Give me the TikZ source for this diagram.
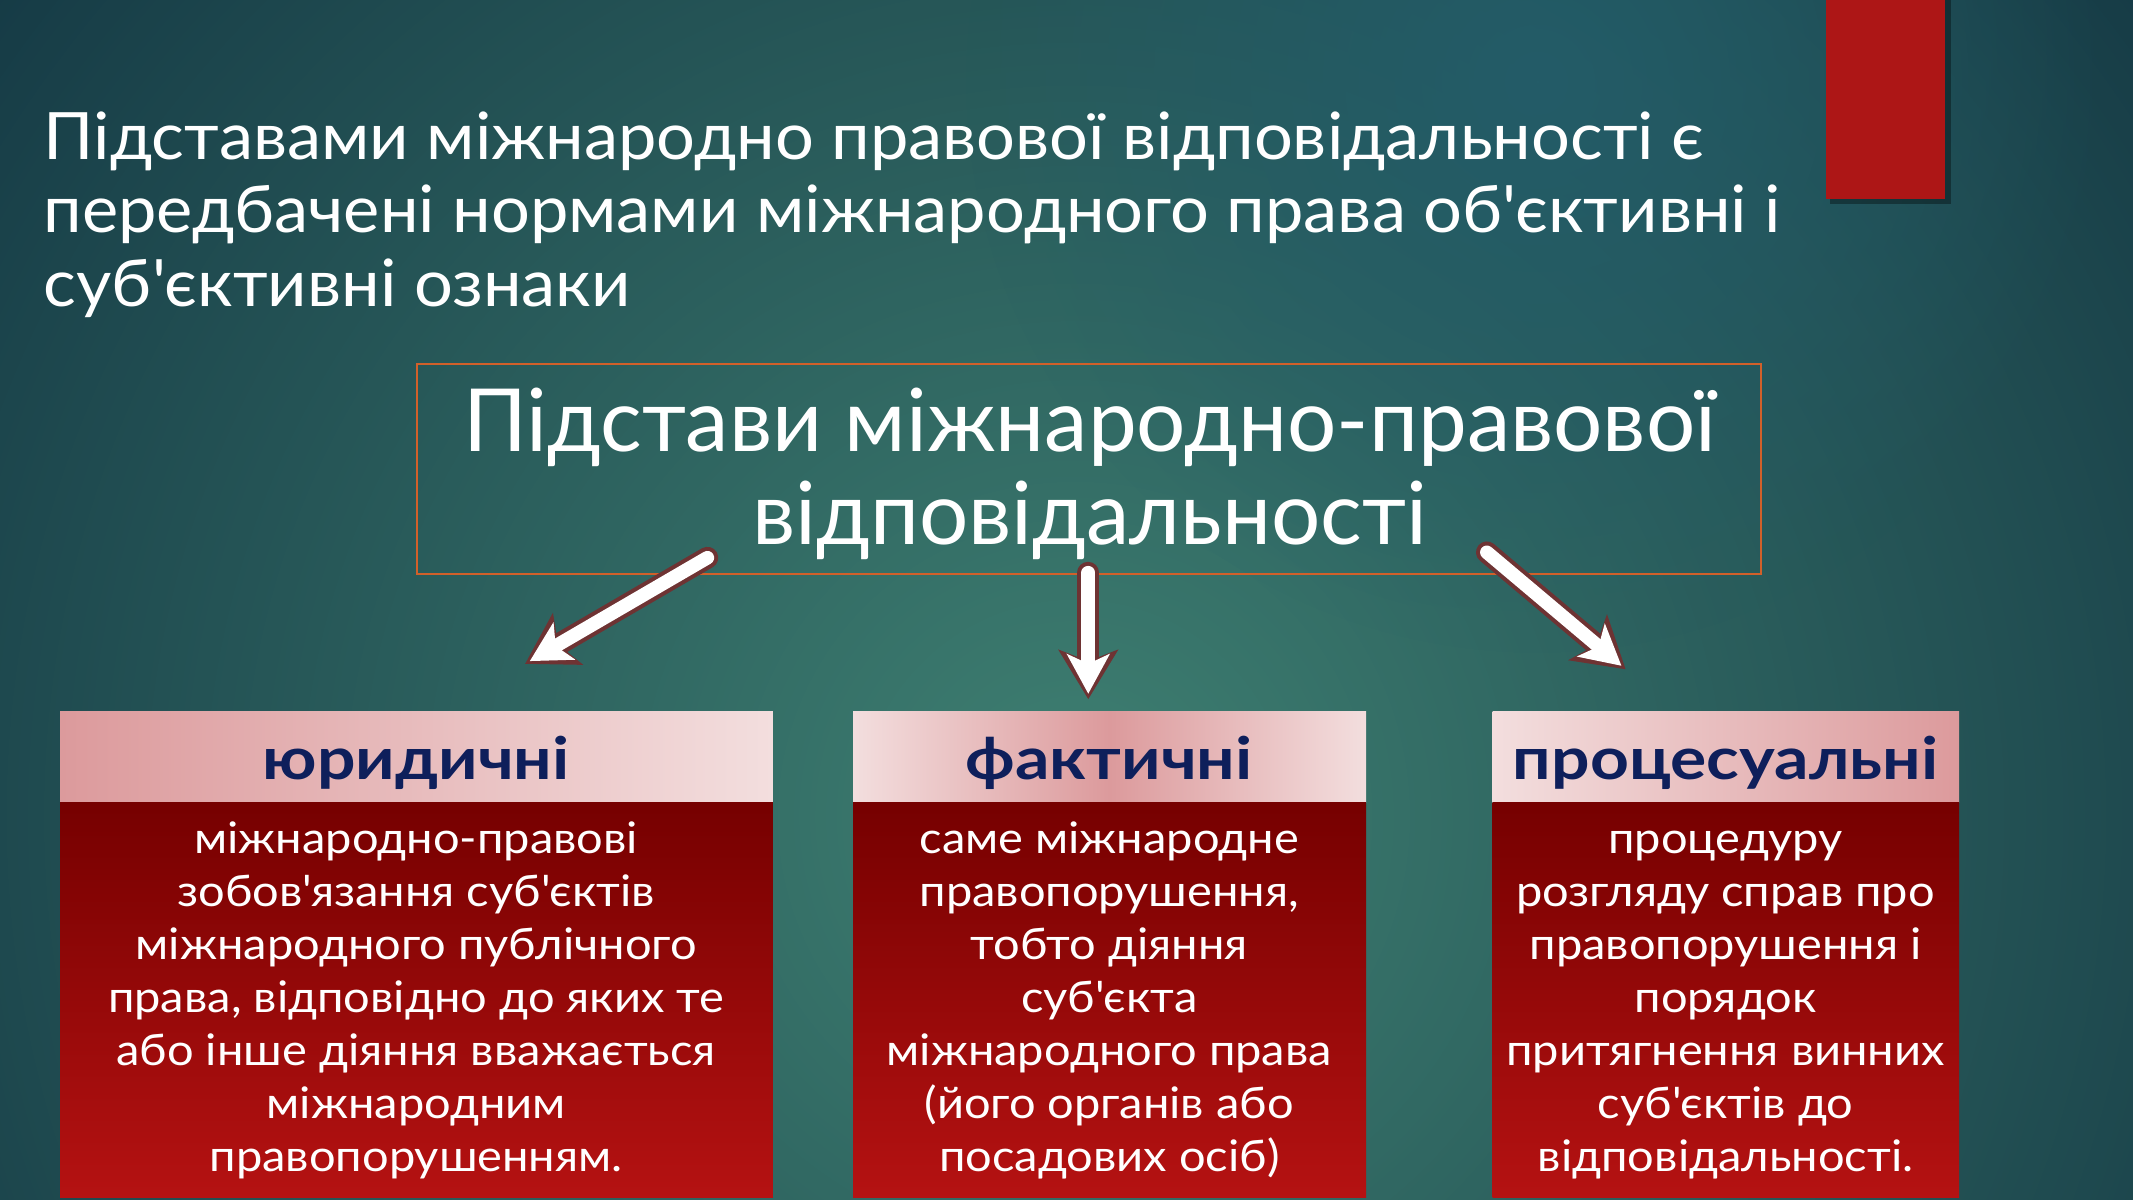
\documentclass[tikz,border=0pt]{standalone}
\usepackage{fontspec}
\setmainfont{Lato}[Ligatures=TeXOff]
\newfontfamily\titlefont{Lato}[Ligatures=TeXOff, FakeStretch=1.05]
\newfontfamily\headfont{Lato}[Ligatures=TeXOff, FakeStretch=1.16]
\newfontfamily\bodyfont{Lato}[Ligatures=TeXOff, FakeStretch=1.08]
\usetikzlibrary{arrows.meta,fadings}
\definecolor{bgdark}{HTML}{163B46}
\definecolor{bglight}{HTML}{3F8072}
\definecolor{bgblue}{HTML}{235C68}
\definecolor{redbar}{HTML}{AD1616}
\definecolor{boxorange}{HTML}{D2602A}
\definecolor{glowred}{HTML}{6E3333}
\definecolor{headnavy}{HTML}{0E1F5B}
\definecolor{pinkdark}{HTML}{DC9A9C}
\definecolor{pinklight}{HTML}{F3DEDE}
\definecolor{bodytop}{HTML}{760000}
\definecolor{bodybot}{HTML}{B51212}
\tikzfading[name=glowfade, inner color=transparent!0, outer color=transparent!100]
\tikzset{
  headbox/.style={anchor=north west, inner sep=0pt, minimum height=67pt},
  bodybox/.style={anchor=north west, inner sep=0pt, minimum height=290pt, top color=bodytop, bottom color=bodybot},
  headtext/.style={anchor=base, inner sep=0pt, text=headnavy, font=\headfont\fontsize{43}{50}\selectfont\bfseries},
  bodytext/.style={anchor=north, inner sep=0pt, align=center, text=white, font=\bodyfont\fontsize{32}{39}\selectfont},
  arrowglow/.style={draw=glowred, line width=16pt, line cap=round, -{Stealth[length=36pt,width=43pt,inset=8pt]}},
  arrowwhite/.style={draw=white, line width=10pt, line cap=round, -{Stealth[length=29pt,width=31pt,inset=7pt]}, shorten >=4pt}
}
\newcommand{\fl}{\rule{0pt}{26pt}}
\begin{document}
\begin{tikzpicture}[x=1pt,y=-1pt]
\useasboundingbox (0,0) rectangle (1568,882);
\fill[bgdark] (0,0) rectangle (1568,882);
\begin{scope}
  \clip (0,0) rectangle (1568,882);
  \fill[bglight, path fading=glowfade] (790,600) circle (1000pt);
  \fill[bgblue, path fading=glowfade] (1130,60) circle (420pt);
\end{scope}
% red bar
\fill[black, opacity=0.35] (1345,0) rectangle (1434,150);
\fill[redbar] (1342,0) rectangle (1430,146);
% title
\node[anchor=north west, inner sep=0pt, align=left, text=white, font=\titlefont\fontsize{48}{54}\selectfont] (title) at (32,79)
  {\rule{0pt}{38pt}Підставами міжнародно правової відповідальності є\\
   передбачені нормами міжнародного права об'єктивні і\\
   суб'єктивні ознаки};
% main box
\node[draw=boxorange, line width=1.5pt, anchor=north west, inner sep=0pt, minimum width=988pt, minimum height=154pt] (main) at (306,267) {};
\node[anchor=north, inner sep=0pt, align=center, text=white, font=\fontsize{64}{68}\selectfont] (maintext) at (801,282)
  {\rule{0pt}{50pt}Підстави міжнародно-правової\\відповідальності};
% columns
\node[headbox, minimum width=524pt, left color=pinkdark, right color=pinklight] (h1) at (44,523) {};
\node[headbox, minimum width=377pt, left color=pinklight, right color=pinklight, middle color=pinkdark] (h2) at (627,523) {};
\node[headbox, minimum width=343pt, left color=pinklight, right color=pinkdark] (h3) at (1097,523) {};
\node[bodybox, minimum width=524pt] (b1) at (44,590) {};
\node[bodybox, minimum width=377pt] (b2) at (627,590) {};
\node[bodybox, minimum width=343pt] (b3) at (1097,590) {};
\node[headtext] (ht1) at (306,573) {юридичні};
\node[headtext] (ht2) at (815.5,573) {фактичні};
\node[headtext] (ht3) at (1268.5,573) {процесуальні};
\node[bodytext] (bt1) at (306,601) {\fl міжнародно-правові\\зобов'язання суб'єктів\\міжнародного публічного\\права, відповідно до яких те\\або інше діяння вважається\\міжнародним\\правопорушенням.};
\node[bodytext] (bt2) at (815.5,601) {\fl саме міжнародне\\правопорушення,\\тобто діяння\\суб'єкта\\міжнародного права\\(його органів або\\посадових осіб)};
\node[bodytext] (bt3) at (1268.5,601) {\fl процедуру\\розгляду справ про\\правопорушення і\\порядок\\притягнення винних\\суб'єктів до\\відповідальності.};
% arrows
\coordinate (a1s) at (520,410);
\coordinate (a1e) at (386,488);
\coordinate (a2s) at (800,421);
\coordinate (a2e) at (800,514);
\coordinate (a3s) at (1093,406);
\coordinate (a3e) at (1195,492);
\foreach \s/\e in {a1s/a1e, a2s/a2e, a3s/a3e}{
  \draw[arrowglow] (\s) -- (\e);
  \draw[arrowwhite] (\s) -- (\e);
}
\end{tikzpicture}
\end{document}
